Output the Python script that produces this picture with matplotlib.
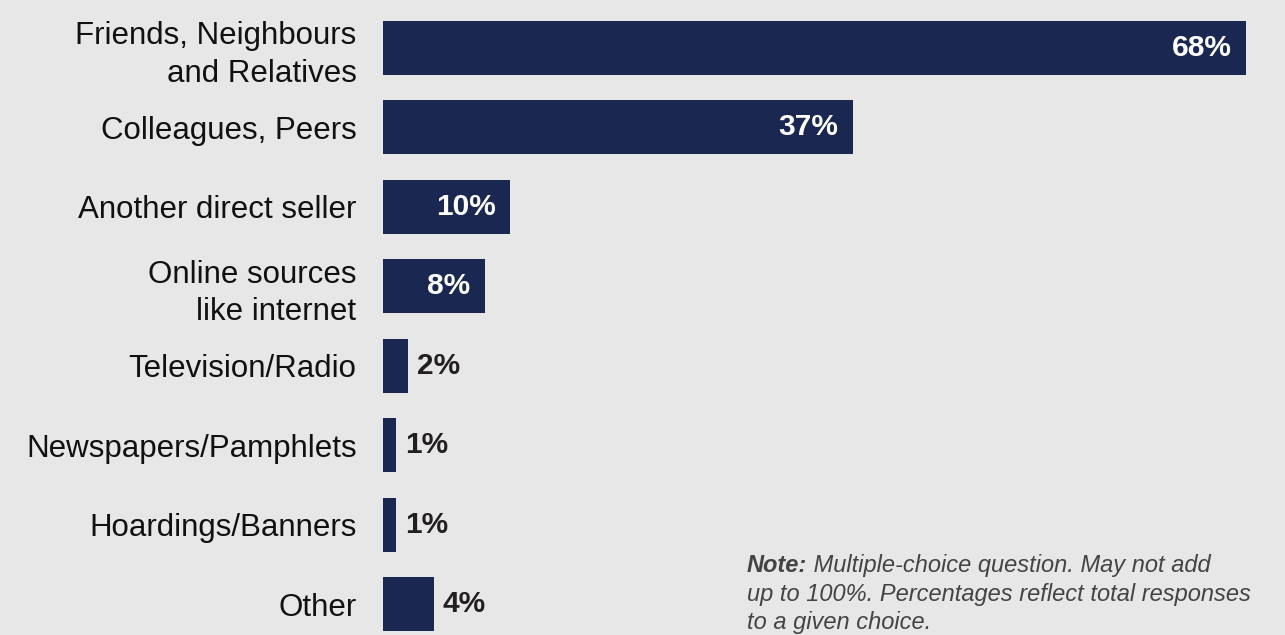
import matplotlib
matplotlib.use("Agg")
import matplotlib.pyplot as plt
from matplotlib import font_manager as fm

# Sources of information about direct selling (share of respondents, %)
categories = [
    "Friends, Neighbours\nand Relatives",
    "Colleagues, Peers",
    "Another direct seller",
    "Online sources\nlike internet",
    "Television/Radio",
    "Newspapers/Pamphlets",
    "Hoardings/Banners",
    "Other",
]
values = [68, 37, 10, 8, 2, 1, 1, 4]
value_labels = ["68%", "37%", "10%", "8%", "2%", "1%", "1%", "4%"]

BG = "#e7e7e7"
BAR = "#1a2751"
TEXT = "#111111"
DARK = "#231f20"
NOTE = "#444444"


def sans(size, bold=False, italic=False):
    """Regular-width Liberation Sans face (skipping the Narrow cut)."""
    want_w = 700 if bold else 400
    want_s = "italic" if italic else "normal"
    for f in fm.fontManager.ttflist:
        if (f.name == "Liberation Sans" and "Narrow" not in f.fname
                and f.style == want_s and f.weight == want_w):
            return fm.FontProperties(fname=f.fname, size=size)
    return fm.FontProperties(family="Liberation Sans", size=size,
                             weight="bold" if bold else "normal",
                             style=want_s)


W, H = 1285, 635
fig = plt.figure(figsize=(W / 100, H / 100), dpi=100, facecolor=BG)
ax = fig.add_axes([383 / W, 0.0, 1 - 383 / W, 1.0])
ax.set_facecolor(BG)

y = list(range(len(categories)))
ax.barh(y, values, height=0.68, color=BAR, zorder=2)

ax.set_xlim(0, 71.07)
ax.set_ylim(7.39, -0.604)

ax.set_yticks(y)
ax.set_yticklabels(categories, fontproperties=sans(22.5), color=TEXT,
                   ha="right", linespacing=1.33)
ax.tick_params(axis="y", length=0, pad=19)
ax.set_xticks([])
for s in ax.spines.values():
    s.set_visible(False)

# Value labels: inside the bar when it is wide enough, otherwise just past its end
for yi, v, lab in zip(y, values, value_labels):
    if v >= 8:
        ax.annotate(lab, xy=(v, yi), xytext=(-14, 0), textcoords="offset pixels",
                    ha="right", va="center", fontproperties=sans(21.5, bold=True),
                    color="white", zorder=3)
    else:
        ax.annotate(lab, xy=(v, yi), xytext=(9, 0), textcoords="offset pixels",
                    ha="left", va="center", fontproperties=sans(21.5, bold=True),
                    color=DARK, zorder=3)

# Footnote
nx = 747 / W
fs_note = 17.0
t1 = fig.text(nx, 1 - 572 / H, "Note:", fontproperties=sans(fs_note, True, True),
              color=NOTE, va="baseline", ha="left")
fig.canvas.draw()
ax.annotate(" Multiple-choice question. May not add", xy=(1, 0), xycoords=t1,
            va="bottom", ha="left", fontproperties=sans(fs_note, italic=True),
            color=NOTE, annotation_clip=False)
fig.text(nx, 1 - 601 / H, "up to 100%. Percentages reflect total responses",
         fontproperties=sans(fs_note, italic=True), color=NOTE,
         va="baseline", ha="left")
fig.text(nx, 1 - 629 / H, "to a given choice.",
         fontproperties=sans(fs_note, italic=True), color=NOTE,
         va="baseline", ha="left")

fig.savefig("out.png", dpi=100, facecolor=BG)
